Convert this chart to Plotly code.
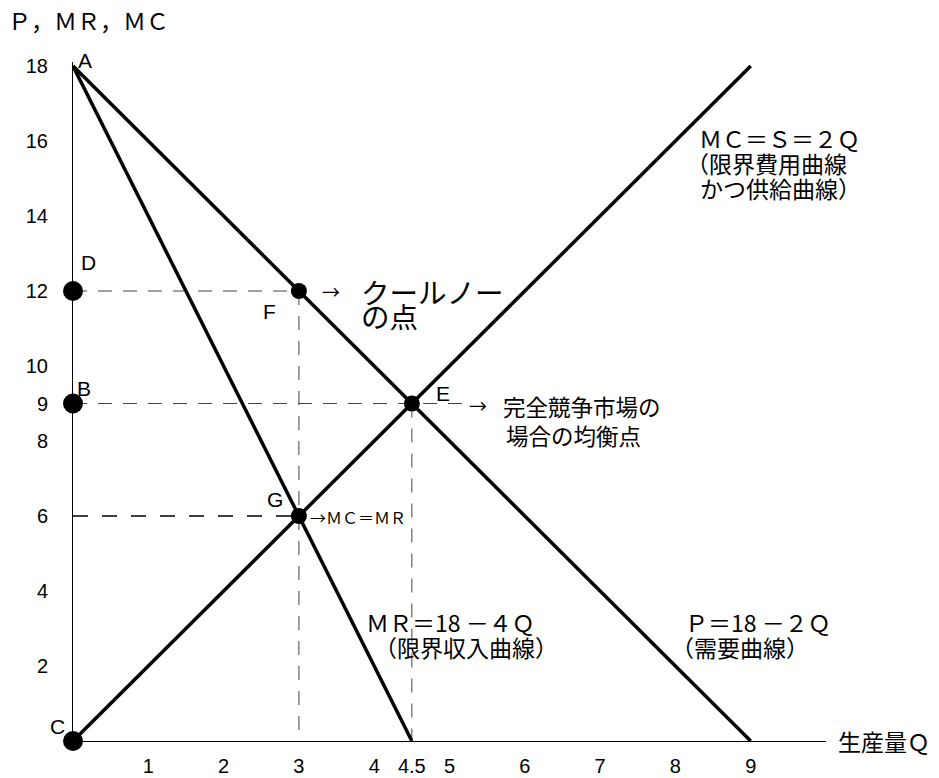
import plotly.graph_objects as go

# Demand, marginal revenue and marginal cost (= supply) lines, given by their end points
demand_q = [0, 9]
demand_p = [18, 0]
mr_q = [0, 4.5]
mr_p = [18, 0]
mc_q = [0, 9]
mc_p = [0, 18]

# Points on the price axis (D, B, C) and on the curves (F, E, G)
axis_pts_q = [0, 0, 0]
axis_pts_p = [12, 9, 0]
curve_pts_q = [3, 4.5, 3]
curve_pts_p = [12, 9, 6]

# Guide lines from the points to the axes
guide_12_q, guide_12_p = [0, 3], [12, 12]
guide_3_q, guide_3_p = [3, 3], [12, 0]
guide_9_q, guide_9_p = [0, 5.25], [9, 9]
guide_45_q, guide_45_p = [4.5, 4.5], [9, 0]
guide_6_q, guide_6_p = [0, 3], [6, 6]

x_ticks = [1, 2, 3, 4, 4.5, 5, 6, 7, 8, 9]
x_ticktext = ["1", "2", "3", "4", "4.5", "5", "6", "7", "8", "9"]
y_ticks = [2, 4, 6, 8, 9, 10, 12, 14, 16, 18]
y_ticktext = ["2", "4", "6", "8", "9", "10", "12", "14", "16", "18"]

X_MAX = 10
Y_MAX = 18.107

JP = "Noto Sans CJK JP"
LAT = "Liberation Sans"

fig = go.Figure()

gray_dash = dict(color="#444444", width=1, dash="14px,11px")
for gq, gp in [(guide_12_q, guide_12_p), (guide_3_q, guide_3_p),
               (guide_9_q, guide_9_p), (guide_45_q, guide_45_p)]:
    fig.add_trace(go.Scatter(x=gq, y=gp, mode="lines", line=gray_dash,
                             hoverinfo="skip", cliponaxis=False))
fig.add_trace(go.Scatter(x=guide_6_q, y=guide_6_p, mode="lines",
                         line=dict(color="black", width=1.6, dash="15px,14px"),
                         hoverinfo="skip", cliponaxis=False))

for q, p in [(demand_q, demand_p), (mr_q, mr_p), (mc_q, mc_p)]:
    fig.add_trace(go.Scatter(x=q, y=p, mode="lines",
                             line=dict(color="black", width=3.5), cliponaxis=False))

fig.add_trace(go.Scatter(x=axis_pts_q, y=axis_pts_p, mode="markers",
                         marker=dict(color="black", size=20), cliponaxis=False))
fig.add_trace(go.Scatter(x=curve_pts_q, y=curve_pts_p, mode="markers",
                         marker=dict(color="black", size=16), cliponaxis=False))


def txt(x, y, s, size=23, family=JP, anchor="left"):
    # positions are given in axis units and placed on the paper so that
    # labels lying just outside the axis ranges stay visible
    fig.add_annotation(x=x / X_MAX, y=y / Y_MAX, xref="paper", yref="paper",
                       text=s, showarrow=False, xanchor=anchor, yanchor="middle",
                       font=dict(size=size, family=family, color="black"))


# Point letters
txt(0.16, 18.15, "A", 21, LAT, "center")
txt(0.21, 12.75, "D", 21, LAT, "center")
txt(0.15, 9.41, "B", 21, LAT, "center")
txt(-0.21, 0.4, "C", 21, LAT, "center")
txt(4.91, 9.28, "E", 21, LAT, "center")
txt(2.61, 11.45, "F", 21, LAT, "center")
txt(2.68, 6.43, "G", 21, LAT, "center")

# Axis titles
txt(-0.89, 19.23, "Ｐ，ＭＲ，ＭＣ", 23)
txt(10.13, 0.0, "生産量Ｑ", 23)

# Curve descriptions
txt(8.29, 16.08, "ＭＣ＝Ｓ＝２Ｑ", 23)
txt(8.11, 15.41, "（限界費用曲線", 23)
txt(8.30, 14.74, "かつ供給曲線）", 23)
txt(3.86, 3.18, "ＭＲ＝18 －４Ｑ", 23)
txt(3.975, 2.515, "（限界収入曲線）", 23)
txt(8.10, 3.18, "Ｐ＝18 －２Ｑ", 23)
txt(7.915, 2.515, "（需要曲線）", 23)

# Point descriptions
txt(3.42, 12.01, "→", 18, JP, "center")
txt(3.8, 11.98, "クールノー", 28.5)
txt(3.8, 11.34, "の点", 28.5)
txt(5.385, 8.96, "→", 18, JP, "center")
txt(5.68, 8.94, "完全競争市場の", 22.5)
txt(5.73, 8.16, "場合の均衡点", 22.5)
txt(3.12, 5.98, "→ＭＣ＝ＭＲ", 16)

fig.update_layout(
    width=939, height=778,
    margin=dict(l=73, r=113, t=62, b=37),
    plot_bgcolor="white", paper_bgcolor="white",
    showlegend=False,
    xaxis=dict(range=[0, X_MAX], showline=True, linecolor="black", linewidth=1,
               showgrid=False, zeroline=False, ticks="", automargin=False,
               tickvals=x_ticks, ticktext=x_ticktext,
               tickfont=dict(size=20, family=LAT, color="black"),
               ticklabelstandoff=7),
    yaxis=dict(range=[0, Y_MAX], showline=True, linecolor="black", linewidth=1,
               showgrid=False, zeroline=False, ticks="", automargin=False,
               tickvals=y_ticks, ticktext=y_ticktext,
               tickfont=dict(size=20, family=LAT, color="black"),
               ticklabelstandoff=20),
)

fig.write_html("out.html")
